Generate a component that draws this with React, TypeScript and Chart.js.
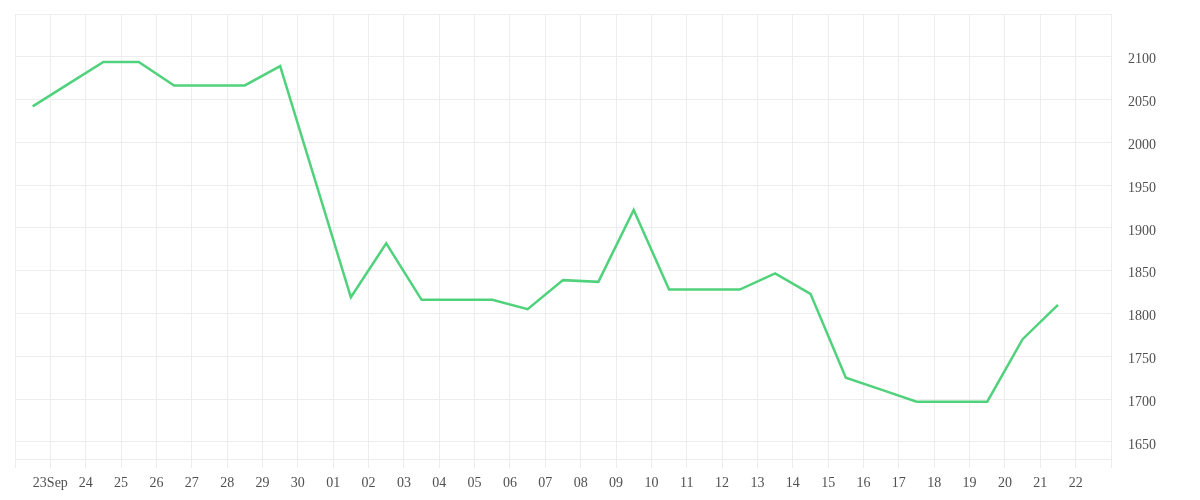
import { useEffect, useRef } from 'react';
import { Chart, registerables } from 'chart.js';

Chart.register(...registerables);

// tick labels for the day boundaries (Sep 23 .. Oct 22)
const dayLabels = [
  '23Sep', '24', '25', '26', '27', '28', '29', '30',
  '01', '02', '03', '04', '05', '06', '07', '08', '09', '10',
  '11', '12', '13', '14', '15', '16', '17', '18', '19', '20', '21', '22',
];

// one value per day, plotted mid-day (Sep 22 .. Oct 21)
const prices = [
  2042, 2068, 2094, 2094, 2066.5, 2066.5, 2066.5, 2089, 1954, 1819,
  1882, 1816, 1816, 1816, 1805, 1839, 1837, 1921, 1828, 1828,
  1828, 1847, 1823, 1725, 1711, 1697, 1697, 1697, 1770, 1810,
];

const yLabelValues = [1650, 1700, 1750, 1800, 1850, 1900, 1950, 2000, 2050, 2100];
const yGridValues = [1630, 1650, 1700, 1750, 1800, 1850, 1900, 1950, 2000, 2050, 2100, 2150];

const FAMILY = "'Liberation Serif', 'Times New Roman', serif";
const TEXT = '#505050';
const GRID = '#ededed';

export default function App() {
  const ref = useRef<HTMLCanvasElement>(null);

  useEffect(() => {
    const chart = new Chart(ref.current!, {
      type: 'line',
      data: {
        datasets: [
          {
            data: prices.map((v, i) => ({ x: i + 0.5, y: v })),
            borderColor: '#50d27c',
            borderWidth: 2.5,
            pointRadius: 0,
            tension: 0,
            fill: false,
          },
        ],
      },
      options: {
        animation: false,
        responsive: false,
        layout: { padding: { left: 15, top: 14, right: 44, bottom: 2 } },
        plugins: { legend: { display: false }, tooltip: { enabled: false } },
        scales: {
          x: {
            type: 'linear',
            min: 0,
            max: dayLabels.length + 1,
            afterBuildTicks: (s: any) => {
              s.ticks = Array.from({ length: dayLabels.length + 2 }, (_, i) => ({ value: i }));
            },
            ticks: {
              autoSkip: false,
              maxRotation: 0,
              padding: 8,
              font: { family: FAMILY, size: 14, lineHeight: 1 },
              color: TEXT,
              callback: (v: any) => dayLabels[Number(v) - 1] ?? '',
            },
            grid: { color: GRID, tickLength: 9 },
            border: { color: GRID },
          },
          y: {
            position: 'right',
            min: 1630,
            max: 2150,
            afterBuildTicks: (s: any) => {
              s.ticks = yGridValues.map((value) => ({ value }));
            },
            ticks: {
              padding: 0,
              labelOffset: 3,
              font: { family: FAMILY, size: 14 },
              color: TEXT,
              callback: (v: any) => (yLabelValues.includes(Number(v)) ? String(v) : ''),
            },
            grid: { color: GRID, drawTicks: true, tickLength: 17, tickColor: 'rgba(0,0,0,0)' },
            border: { color: GRID },
          },
        },
      },
    });
    return () => chart.destroy();
  }, []);

  return (
    <div style={{ position: 'absolute', left: 0, top: 0, width: 1200, height: 500 }}>
      <canvas ref={ref} width={1200} height={500} style={{ width: 1200, height: 500 }} />
    </div>
  );
}
